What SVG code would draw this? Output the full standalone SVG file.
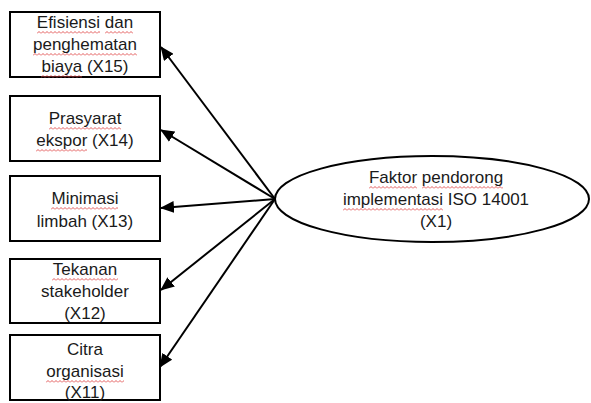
<svg xmlns="http://www.w3.org/2000/svg" width="591" height="403" viewBox="0 0 591 403">
<style>
.box{fill:#fff;stroke:#000;stroke-width:2}
.t{font-family:"Liberation Sans",Arial,sans-serif;font-size:17px;fill:#1a1a1a;text-anchor:middle}
.sq{fill:url(#wv)}
.con{stroke:#000;stroke-width:2;fill:none;marker-end:url(#ah)}
</style>
<defs>
<marker id="ah" markerUnits="userSpaceOnUse" markerWidth="14" markerHeight="12" refX="13" refY="6" orient="auto">
<path d="M0,0 L14,6 L0,12 z" fill="#000"/>
</marker>
<pattern id="wv" patternUnits="userSpaceOnUse" width="4" height="3">
<path d="M0,2.5 L2,0.5 L4,2.5" fill="none" stroke="#e04848" stroke-width="0.9"/>
</pattern>
</defs>
<rect width="591" height="403" fill="#fff"/>
<g id="connectors">
<line class="con" x1="275" y1="199" x2="161" y2="47"/>
<line class="con" x1="275" y1="199" x2="161" y2="130"/>
<line class="con" x1="275" y1="199" x2="161" y2="208"/>
<line class="con" x1="275" y1="199" x2="161" y2="290"/>
<line class="con" x1="275" y1="199" x2="160" y2="367"/>
</g>
<g id="x15">
<rect class="box" x="10" y="12" width="150" height="65"/>
<text class="t"><tspan x="85" y="28">Efisiensi dan</tspan><tspan x="85" y="50">penghematan</tspan><tspan x="85" y="72">biaya (X15)</tspan></text>
<rect class="sq" transform="translate(37,31)" width="63" height="3"/>
<rect class="sq" transform="translate(105,31)" width="28" height="3"/>
<rect class="sq" transform="translate(33,53)" width="104" height="3"/>
<rect class="sq" transform="translate(41,75)" width="41" height="3"/>
</g>
<g id="x14">
<rect class="box" x="10" y="96" width="150" height="65"/>
<text class="t"><tspan x="85" y="124">Prasyarat</tspan><tspan x="85" y="146">ekspor (X14)</tspan></text>
<rect class="sq" transform="translate(49,127)" width="72" height="3"/>
<rect class="sq" transform="translate(36,149)" width="51" height="3"/>
</g>
<g id="x13">
<rect class="box" x="10" y="176" width="150" height="65"/>
<text class="t"><tspan x="85" y="204">Minimasi</tspan><tspan x="85" y="227">limbah (X13)</tspan></text>
<rect class="sq" transform="translate(51,207)" width="67" height="3"/>
</g>
<g id="x12">
<rect class="box" x="10" y="259" width="150" height="64"/>
<text class="t"><tspan x="85" y="275">Tekanan</tspan><tspan x="85" y="297">stakeholder</tspan><tspan x="85" y="319">(X12)</tspan></text>
<rect class="sq" transform="translate(52,278)" width="66" height="3"/>
</g>
<g id="x11">
<rect class="box" x="10" y="335" width="150" height="65"/>
<text class="t"><tspan x="85" y="355">Citra</tspan><tspan x="85" y="377">organisasi</tspan><tspan x="85" y="398">(X11)</tspan></text>
<rect class="sq" transform="translate(46,380)" width="78" height="3"/>
</g>
<g id="x1">
<ellipse class="box" cx="432" cy="199" rx="157" ry="43"/>
<text class="t"><tspan x="436" y="183">Faktor pendorong</tspan><tspan x="436" y="205">implementasi ISO 14001</tspan><tspan x="436" y="227">(X1)</tspan></text>
<rect class="sq" transform="translate(369,186)" width="48" height="3"/>
<rect class="sq" transform="translate(422,186)" width="81" height="3"/>
<rect class="sq" transform="translate(343,208)" width="100" height="3"/>
</g>
</svg>
